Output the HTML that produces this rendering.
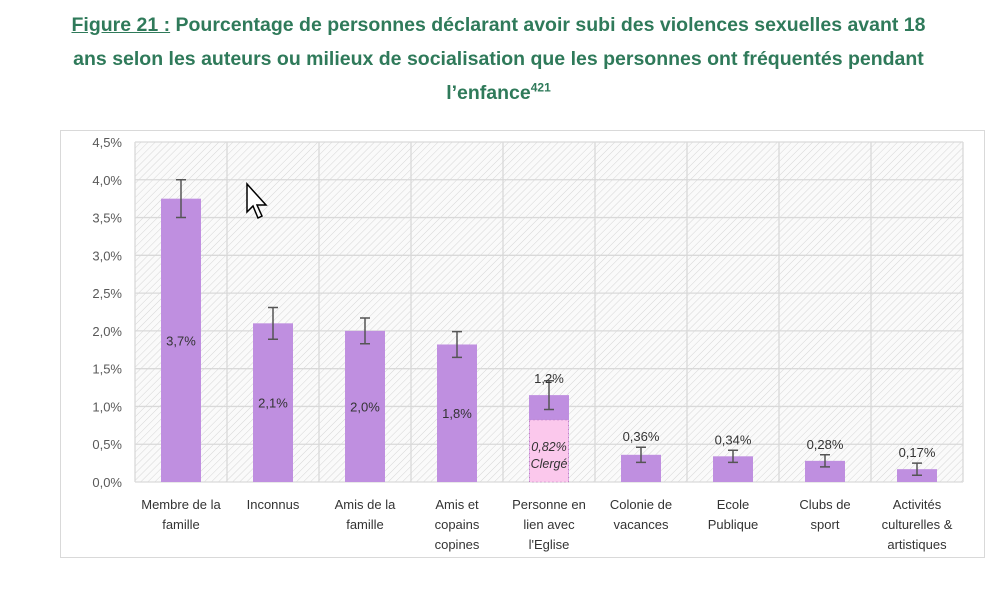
<!DOCTYPE html>
<html><head><meta charset="utf-8"><style>
body{margin:0;width:997px;height:597px;background:#fff;overflow:hidden;font-family:"Liberation Sans",sans-serif}
#title{position:absolute;left:0;top:8px;width:997px;text-align:center;color:#2f7a5a;font-weight:bold;font-size:19.5px;line-height:34px}
#title u{text-decoration:underline}
sup{font-size:12px;line-height:0}
</style></head><body>
<div id="title"><u>Figure 21 :</u> Pourcentage de personnes déclarant avoir subi des violences sexuelles avant 18<br>ans selon les auteurs ou milieux de socialisation que les personnes ont fréquentés pendant<br>l’enfance<sup>421</sup></div>
<svg id="chart" width="997" height="597" style="position:absolute;left:0;top:0">
<defs><pattern id="hatch" width="5" height="5" patternUnits="userSpaceOnUse" patternTransform="rotate(45)"><rect width="5" height="5" fill="#fafafa"/><line x1="0" y1="0" x2="0" y2="5" stroke="#d6d6d6" stroke-width="1"/></pattern></defs>
<rect x="60.5" y="130.5" width="924" height="427" fill="#fff" stroke="#d9d9d9"/>
<g id="g"></g>
</svg>
<script>
const categories=["Membre de la|famille","Inconnus","Amis de la|famille","Amis et|copains|copines","Personne en|lien avec|l'Eglise","Colonie de|vacances","Ecole|Publique","Clubs de|sport","Activités|culturelles &|artistiques"];
const values=[3.75,2.1,2.0,1.82,1.15,0.36,0.34,0.28,0.17];
const errors=[0.25,0.21,0.17,0.17,0.19,0.1,0.08,0.08,0.08];
const labels=["3,7%","2,1%","2,0%","1,8%","1,2%","0,36%","0,34%","0,28%","0,17%"];
const clergeValue=0.82;
const ticks=[0,0.5,1,1.5,2,2.5,3,3.5,4,4.5];
const tickLabels=["0,0%","0,5%","1,0%","1,5%","2,0%","2,5%","3,0%","3,5%","4,0%","4,5%"];
const L=135,R=963,T=142,B=482;
const y=v=>B-(v/4.5)*(B-T);
const cw=(R-L)/categories.length;
const xc=i=>L+cw*(i+0.5);
const g=document.getElementById('g');
const NS='http://www.w3.org/2000/svg';
function mk(t,a,txt){const e=document.createElementNS(NS,t);for(const k in a)e.setAttribute(k,a[k]);if(txt!=null)e.textContent=txt;g.appendChild(e);return e;}
const bg=mk('rect',{x:L,y:T,width:R-L,height:B-T,fill:'url(#hatch)'});


ticks.forEach((t,i)=>{
 const l=mk('line',{x1:L,x2:R,y1:y(t),y2:y(t),stroke:'#d9d9d9','stroke-width':1.3});
 
 
 const tx=mk('text',{x:L-13,y:y(t)+5,'text-anchor':'end','font-size':13,fill:'#595959'},tickLabels[i]);
 
 
});
for(let i=0;i<=categories.length;i++){
 const l=mk('line',{x1:L+cw*i,x2:L+cw*i,y1:T,y2:B,stroke:'#d9d9d9','stroke-width':1.3});
 
 
}
const bw=40;
values.forEach((v,i)=>{
 const cx=xc(i);
 const b=mk('rect',{x:cx-bw/2,y:y(v),width:bw,height:B-y(v),fill:'#bf8fe0'});
 
 
 if(i===4){
  const c=mk('rect',{x:cx-bw/2+0.5,y:y(clergeValue),width:bw-1,height:B-y(clergeValue),fill:'#fbc8ec',stroke:'#c080c0','stroke-dasharray':'1,3'});
  
  
  const ct=mk('text',{x:cx,y:y(clergeValue)+31,'text-anchor':'middle','font-size':12.5,'font-style':'italic',fill:'#333'},'0,82%');
  
  
  const ct2=mk('text',{x:cx,y:y(clergeValue)+48,'text-anchor':'middle','font-size':12.5,'font-style':'italic',fill:'#333'},'Clergé');
  
  
 }
 const e=mk('path',{d:`M${cx-5} ${y(v+errors[i])}H${cx+5}M${cx} ${y(v+errors[i])}V${y(v-errors[i])}M${cx-5} ${y(v-errors[i])}H${cx+5}`,stroke:'#555','stroke-width':1.5,fill:'none'});
 
 
 const inside=i<4;
 const ly=inside? y(v/2)+5 : y(v+errors[i])-6;
 const lt=mk('text',{x:cx,y:i===4?y(v+errors[i])+2:ly,'text-anchor':'middle','font-size':13,fill:'#333'},labels[i]);
 
 
 categories[i].split('|').forEach((s,k)=>{
  const t=mk('text',{x:cx,y:B+27+k*20,'text-anchor':'middle','font-size':13,fill:'#333'},s);
  
  
 });
});
const cur=mk('path',{d:'M247 184 L247 212 L253 206 L258 218 L262 216 L257 205 L266 205 Z',fill:'#fff',stroke:'#000','stroke-width':1.5});


</script>
</body></html>
